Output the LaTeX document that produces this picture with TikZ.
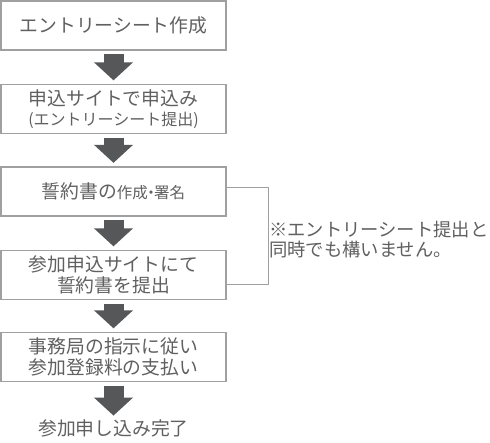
\documentclass[tikz,border=0pt]{standalone}
\usepackage{fontspec}
\setmainfont{Noto Sans CJK JP}
\usepackage{xcolor}
\usepackage{tikz}
\usetikzlibrary{arrows.meta, calc}
\definecolor{ink}{RGB}{96,96,96}
\definecolor{frame}{RGB}{160,160,160}
\definecolor{block}{RGB}{85,87,89}

\begin{document}
\begin{tikzpicture}[x=1pt, y=-1pt,
    font=\fontsize{18.8}{21.5}\selectfont, text=ink,
    st/.style={rectangle,draw=frame,line width=1.3pt,fill=white,
               minimum width=225pt,minimum height=49pt,inner sep=0pt,align=center},
    blk/.style={draw=block,line width=20pt,shorten <=3.5pt,shorten >=3.5pt,
                -{Triangle[length=18pt,width=38pt,fill=block]}},
    brk/.style={draw=frame,line width=1pt}]

  \useasboundingbox[fill=white] (0,0) rectangle (490,443);

  \node[st] (b1) at (113.5, 25.5) {エントリーシート作成};
  \node[st] (b2) at (113.5,109.0) {申込サイトで申込み\\[-2pt]{\fontsize{16}{19}\selectfont(エントリーシート提出)}};
  \node[st] (b3) at (113.5,191.5) {誓約書の{\fontsize{15.5}{18}\selectfont 作成\kern-.3em・\kern-.3em署名}};
  \node[st] (b4) at (113.5,275.0) {参加申込サイトにて\\誓約書を提出};
  \node[st] (b5) at (113.5,357.0) {事務局の指示に従い\\参加登録料の支払い};
  \node[inner sep=0pt] (done) at (113.5,428) {参加申し込み完了};

  \draw[blk] (b1) -- (b2);
  \draw[blk] (b2) -- (b3);
  \draw[blk] (b3) -- (b4);
  \draw[blk] (b4) -- (b5);
  \draw[blk] (b5) -- (done);

  \draw[brk] ([yshift=4pt]b3.east) -- ++(42,0) |- ([yshift=-10pt]b4.east);
  \node[anchor=west,align=left,inner sep=0pt,font=\fontsize{18.3}{20}\selectfont] (note) at (269,240)
       {※エントリーシート提出と\\同時でも構いません。};
\end{tikzpicture}
\end{document}
